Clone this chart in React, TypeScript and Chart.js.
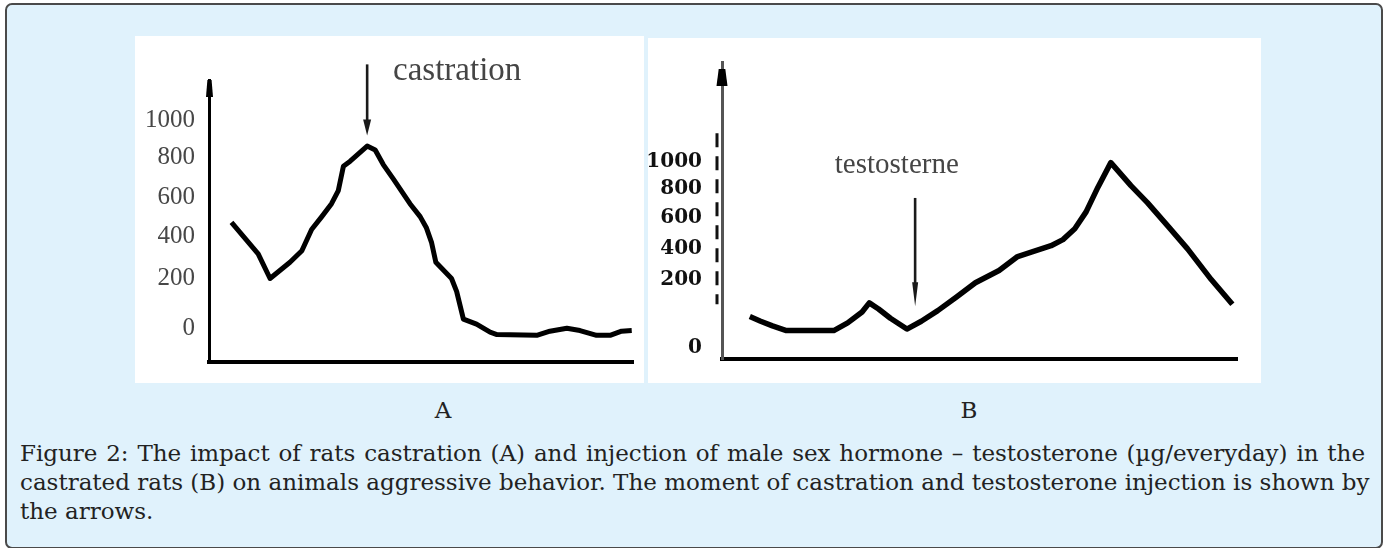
import React, { useEffect, useRef } from "react";
import { Chart, registerables } from "chart.js";

Chart.register(...registerables);

// ---- Panel A: castration ----
const daysA = [5.3, 11.6, 14.4, 19.1, 21.9, 24.2, 26.6, 28.9, 30.5, 31.7, 33.3, 37.3, 39.2, 41.1, 43.5, 47.4, 49.8, 51.3, 52.5, 53.5, 57.2, 58.4, 60.0, 63.1, 66.3, 67.9, 77.3, 80.4, 84.4, 87.5, 91.4, 94.6, 97.3, 99.7];
const aggressionA = [511, 360, 242, 320, 375, 477, 539, 601, 664, 781, 805, 878, 859, 789, 719, 601, 539, 484, 414, 320, 242, 180, 47, 23, -16, -27, -31, -11, 3, -8, -31, -31, -11, -8];
const yTickValuesA = [0, 244, 445, 633, 825, 1000];
const yTickLabelsA = ["0", "200", "400", "600", "800", "1000"];
const arrowA = { label: "castration", day: 37.3, from: 1270, to: 928, labelDay: 43.4, labelValue: 1195 };

// ---- Panel B: testosterone ----
const daysB = [5.4, 7.5, 9.8, 12.5, 21.7, 24.4, 27.2, 28.6, 30.4, 32.7, 35.9, 38.7, 41.9, 45.6, 49.2, 53.8, 57.4, 60.2, 63.9, 66.2, 68.5, 70.7, 73.0, 75.5, 79.4, 82.6, 86.8, 90.4, 95.0, 99.1];
const aggressionB = [168, 143, 118, 93, 93, 134, 193, 242, 209, 159, 101, 143, 200, 275, 350, 416, 491, 516, 549, 582, 640, 731, 864, 996, 872, 781, 648, 532, 367, 234];
const yTickValuesB = [0, 368, 532, 701, 856, 1000];
const yTickLabelsB = ["0", "200", "400", "600", "800", "1000"];
const arrowB = { label: "testosterne", day: 37.5, from: 806, to: 224, labelDay: 21.9, labelValue: 939 };
const dashRangeB = { from: 1154, to: 234 };

const captionLines = [
  "Figure 2: The impact of rats castration (A) and injection of male sex hormone \u2013 testosterone (\u00b5g/everyday) in the",
  "castrated rats (B) on animals aggressive behavior. The moment of castration and testosterone injection is shown by",
  "the arrows.",
];

const figureMarks = {
  id: "figureMarks",
  afterDraw(chart: any, _args: any, opts: any) {
    const { ctx, chartArea, scales } = chart;
    const xs = scales.x;
    const ys = scales.y;
    ctx.save();
    // arrow head on top of the y axis
    const hx = chartArea.left + opts.headDx;
    const ht = chartArea.top + opts.headTop;
    ctx.fillStyle = "#000";
    ctx.beginPath();
    ctx.moveTo(hx - opts.headW * 0.3, ht);
    ctx.lineTo(hx + opts.headW * 0.3, ht);
    ctx.lineTo(hx + opts.headW / 2, ht + opts.headH);
    ctx.lineTo(hx - opts.headW / 2, ht + opts.headH);
    ctx.closePath();
    ctx.fill();
    // dashes beside the axis
    if (opts.dashes) {
      ctx.strokeStyle = "#111";
      ctx.lineWidth = 3;
      ctx.setLineDash([14, 9]);
      ctx.beginPath();
      const dx = chartArea.left - 5;
      ctx.moveTo(dx, ys.getPixelForValue(opts.dashes.from));
      ctx.lineTo(dx, ys.getPixelForValue(opts.dashes.to));
      ctx.stroke();
      ctx.setLineDash([]);
    }
    // event arrow
    const a = opts.arrow;
    const px = xs.getPixelForValue(a.day);
    const y1 = ys.getPixelForValue(a.from);
    const y2 = ys.getPixelForValue(a.to);
    ctx.strokeStyle = "#1a1a1a";
    ctx.fillStyle = "#1a1a1a";
    ctx.lineWidth = 2.6;
    ctx.beginPath();
    ctx.moveTo(px, y1);
    ctx.lineTo(px, y2 - opts.arrowLen + 2);
    ctx.stroke();
    ctx.beginPath();
    ctx.moveTo(px - opts.arrowW / 2, y2 - opts.arrowLen);
    ctx.lineTo(px + opts.arrowW / 2, y2 - opts.arrowLen);
    ctx.lineTo(px, y2);
    ctx.closePath();
    ctx.fill();
    // event label
    ctx.font = opts.font;
    ctx.fillStyle = opts.textColor;
    ctx.textAlign = "left";
    ctx.textBaseline = "alphabetic";
    ctx.fillText(a.label, xs.getPixelForValue(a.labelDay), ys.getPixelForValue(a.labelValue));
    ctx.restore();
  },
};

function makeConfig(p: any) {
  return {
    type: "line",
    data: {
      datasets: [
        {
          data: p.days.map((d: number, i: number) => ({ x: d, y: p.values[i] })),
          borderColor: "#000",
          borderWidth: p.lineWidth,
          pointRadius: 0,
          tension: 0,
          fill: false,
          borderJoinStyle: "round",
        },
      ],
    },
    options: {
      responsive: false,
      animation: false,
      events: [],
      layout: { padding: p.padding },
      plugins: {
        legend: { display: false },
        tooltip: { enabled: false },
        figureMarks: p.marks,
      },
      scales: {
        x: {
          type: "linear",
          min: 0,
          max: 100,
          ticks: { display: false },
          grid: { display: false },
          border: { display: true, color: "#000", width: 4 },
          afterFit: (s: any) => {
            s.height = 0;
          },
        },
        y: {
          type: "linear",
          min: p.yMin,
          max: p.yMax,
          grid: { display: false },
          border: { display: true, color: p.axisColor, width: 3 },
          afterBuildTicks: (s: any) => {
            s.ticks = p.tickValues.map((v: number) => ({ value: v }));
          },
          ticks: {
            padding: p.tickPad,
            color: p.tickColor,
            font: p.tickFont,
            callback: (_v: any, i: number) => p.tickLabels[i],
          },
          afterFit: (s: any) => {
            s.width = p.axisWidth;
          },
        },
      },
    },
    plugins: [figureMarks],
  };
}

export default function App() {
  const refA = useRef<HTMLCanvasElement>(null);
  const refB = useRef<HTMLCanvasElement>(null);

  useEffect(() => {
    const chartA = new Chart(
      refA.current as HTMLCanvasElement,
      makeConfig({
        days: daysA,
        values: aggressionA,
        lineWidth: 5,
        padding: { top: 44, right: 11, bottom: 14, left: 0 },
        yMin: -159,
        yMax: 1195,
        tickValues: yTickValuesA,
        tickLabels: yTickLabelsA,
        tickPad: 6,
        tickColor: "#474747",
        tickFont: { family: "'Liberation Serif', serif", size: 25 },
        axisWidth: 74,
        axisColor: "#000",
        marks: {
          headDx: 0.5,
          headTop: 0,
          headW: 7,
          headH: 17,
          arrow: arrowA,
          arrowLen: 16,
          arrowW: 8,
          font: "33px 'Liberation Serif', serif",
          textColor: "#454545",
        },
      }) as any
    );
    const chartB = new Chart(
      refB.current as HTMLCanvasElement,
      makeConfig({
        days: daysB,
        values: aggressionB,
        lineWidth: 5.5,
        padding: { top: 10, right: 24, bottom: 14, left: 0 },
        yMin: -60,
        yMax: 1537,
        tickValues: yTickValuesB,
        tickLabels: yTickLabelsB,
        tickPad: 12,
        tickColor: "#111",
        tickFont: { family: "'DejaVu Serif', serif", size: 20, weight: "bold" },
        axisWidth: 74,
        axisColor: "#555",
        marks: {
          headDx: 0,
          headTop: 7,
          headW: 11,
          headH: 17,
          dashes: dashRangeB,
          arrow: arrowB,
          arrowLen: 24,
          arrowW: 6,
          font: "29px 'Liberation Serif', serif",
          textColor: "#454545",
        },
      }) as any
    );
    return () => {
      chartA.destroy();
      chartB.destroy();
    };
  }, []);

  const serif = "'DejaVu Serif', serif";

  return (
    <div style={{ position: "absolute", left: 0, top: 0, width: 1385, height: 548, overflow: "hidden", background: "#fff" }}>
      <div
        style={{
          position: "absolute",
          left: 5,
          top: 3,
          width: 1378,
          height: 546,
          boxSizing: "border-box",
          border: "2px solid #4a4a4a",
          borderRadius: 7,
          background: "#e0f2fc",
        }}
      />
      <div style={{ position: "absolute", left: 135, top: 36, width: 509, height: 347, background: "#fff" }}>
        <canvas ref={refA} width={509} height={347} style={{ display: "block" }} />
      </div>
      <div style={{ position: "absolute", left: 648, top: 38, width: 613, height: 345, background: "#fff" }}>
        <canvas ref={refB} width={613} height={345} style={{ display: "block" }} />
      </div>
      <div style={{ position: "absolute", left: 393, top: 396, width: 100, textAlign: "center", font: `23px ${serif}`, lineHeight: "29px", color: "#222" }}>A</div>
      <div style={{ position: "absolute", left: 919, top: 396, width: 100, textAlign: "center", font: `23px ${serif}`, lineHeight: "29px", color: "#222" }}>B</div>
      <div style={{ position: "absolute", left: 20, top: 439, width: 1345, font: `23px ${serif}`, lineHeight: "29px", color: "#222" }}>
        {captionLines.map((line, i) => (
          <div
            key={i}
            style={{
              textAlign: "justify",
              textAlignLast: i < captionLines.length - 1 ? "justify" : "left",
              whiteSpace: "nowrap",
            }}
          >
            {line}
          </div>
        ))}
      </div>
    </div>
  );
}
